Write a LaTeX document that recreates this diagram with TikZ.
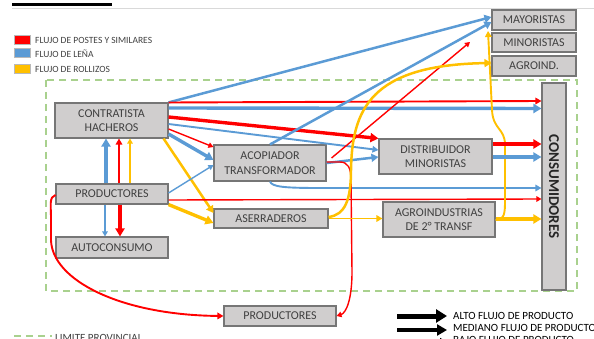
\documentclass[tikz,border=0pt]{standalone}
\usepackage{fontspec}
\setmainfont{Carlito}
\usetikzlibrary{arrows.meta,calc}
\definecolor{cred}{RGB}{255,0,0}
\definecolor{cblue}{RGB}{91,155,213}
\definecolor{cyel}{RGB}{255,192,0}
\definecolor{cgreen}{RGB}{169,209,142}
\definecolor{boxfill}{RGB}{208,206,206}
\definecolor{boxdraw}{RGB}{118,118,118}
\definecolor{txt}{RGB}{64,64,64}
\begin{document}
\begin{tikzpicture}[x=1pt,y=-1pt,
  box/.style={draw=boxdraw,fill=boxfill,line width=1.1pt,inner sep=0pt,align=center,
    font=\fontsize{12}{14.5}\selectfont,text=txt},
  thk/.style={line width=3.4pt,-{Triangle[length=8pt,width=9pt]}},
  med/.style={line width=2.5pt,-{Triangle[length=7pt,width=8pt]}},
  thm/.style={line width=1.9pt,-{Triangle[length=6pt,width=6.5pt]}},
  thn/.style={line width=1.4pt,-{Triangle[length=5pt,width=5.5pt]}},
  legtxt/.style={anchor=west,inner sep=0pt,text=txt},
  swatch/.style={draw=gray!55,line width=0.6pt,minimum width=16pt,minimum height=9pt,inner sep=0pt},
  limit/.style={cgreen,line width=1.5pt,dash pattern=on 7pt off 5pt}
]
\useasboundingbox (0,0) rectangle (594,339);
\clip (0,0) rectangle (594,339);

% header remnants
\fill[black] (12,3) rectangle (112,6);
\draw[gray!30,line width=0.8pt] (12,8.3) -- (594,8.3);

% legend top-left
\node[swatch,fill=cred] (sr) at (22,39.5) {};
\node[swatch,fill=cblue] (sb) at (22,53) {};
\node[swatch,fill=cyel] (sy) at (22,69) {};
\node[legtxt,font=\fontsize{9.5}{11}\selectfont] (tr) at (35,40) {FLUJO DE POSTES Y SIMILARES};
\node[legtxt,font=\fontsize{9.5}{11}\selectfont] (tb) at (35,53.5) {FLUJO DE LEÑA};
\node[legtxt,font=\fontsize{9.5}{11}\selectfont] (ty) at (35,69.5) {FLUJO DE ROLLIZOS};

% provincial limit
\draw[limit] (46,80) rectangle (577,291);

% boxes
\node[box,minimum width=84pt,minimum height=20pt] (may) at (534,20) {MAYORISTAS};
\node[box,minimum width=84pt,minimum height=19pt] (mino) at (534,42.5) {MINORISTAS};
\node[box,minimum width=84pt,minimum height=20pt] (agr) at (534,66) {AGROIND.};
\node[box,minimum width=24pt,minimum height=207pt] (cons) at (554,186.5) {};
\node[rotate=-90,inner sep=0pt,font=\bfseries\fontsize{15}{16}\selectfont,text=black!85] (consl) at (cons.center) {CONSUMIDORES};
\node[box,minimum width=113pt,minimum height=35pt] (con) at (111.5,120.5) {CONTRATISTA\\HACHEROS};
\node[box,minimum width=112pt,minimum height=20pt] (prodl) at (112,194) {PRODUCTORES};
\node[box,minimum width=112pt,minimum height=21pt] (auto) at (112,247.5) {AUTOCONSUMO};
\node[box,minimum width=112pt,minimum height=36pt] (acop) at (270,163) {ACOPIADOR\\TRANSFORMADOR};
\node[box,minimum width=114pt,minimum height=19pt] (aser) at (271,218.5) {ASERRADEROS};
\node[box,minimum width=113pt,minimum height=35pt] (dist) at (435.5,156.5) {DISTRIBUIDOR\\MINORISTAS};
\node[box,minimum width=112pt,minimum height=35pt] (agro2) at (439,219.5) {AGROINDUSTRIAS\\DE 2° TRANSF};
\node[box,minimum width=112pt,minimum height=20pt] (prodb) at (280,316) {PRODUCTORES};

\coordinate (rtip) at (470,42);
\coordinate (ytip) at (488,31);

% from CONTRATISTA HACHEROS
\draw[cblue,med] (con.north east) -- (may.west |- 0,17);
\draw[cred,thm] (con.east |- 0,102.5) -- (cons.west |- 0,101);
\draw[cblue,thk] (con.east |- 0,108) -- (cons.west |- 0,108.5);
\draw[cred,thk] (con.east |- 0,117) -- (dist.north west);
\draw[cblue,thm] (con.east |- 0,124) -- (dist.west |- 0,150);
\draw[cred,thn] (con.east |- 0,129) -- (acop.west |- 0,147);
\draw[cblue,thk] (con.east |- 0,134) -- (acop.west |- 0,160);
\draw[cyel,med] ($(con.south east)+(-5,0)$) -- (aser.west |- 0,213);

% from PRODUCTORES (left)
\draw[cblue,thk] (prodl.north -| 106,0) -- (con.south -| 106,0);
\draw[cred,thm] (prodl.north -| 119,0) -- (con.south -| 119,0);
\draw[cyel,thn] (prodl.north -| 130,0) -- (con.south -| 130,0);
\draw[cblue,thn] (prodl.south -| 105,0) -- (auto.north -| 105,0);
\draw[cred,thk] (prodl.south -| 120,0) -- (auto.north -| 120,0);
\draw[cblue,thn] (prodl.east |- 0,193) -- (acop.west |- 0,165);
\draw[cred,thn] (prodl.east |- 0,200) -- (cons.west |- 0,199);
\draw[cyel,thk] (prodl.south east) -- (aser.west |- 0,223);
\draw[cred,thm] (prodl.west |- 0,195) .. controls (49,197) and (51,205) .. (51,218) -- (51,240)
  .. controls (52,280) and (120,315) .. (prodb.west);

% from ACOPIADOR TRANSFORMADOR
\draw[cblue,med] (acop.north) -- (may.west |- 0,22);
\draw[cred,thn] ($(acop.east |- 0,158)+(5,0)$) -- (rtip);
\draw[cblue,med] (acop.east |- 0,163) -- (dist.west |- 0,157);
\draw[cblue,thm] (acop.south) .. controls (272,187) and (285,188) .. (320,188) -- (cons.west |- 0,188);
\draw[cred,thn] (acop.east |- 0,162) -- (340,162) .. controls (348,162) and (351,168) .. (351,180)
  -- (352,272) .. controls (352,300) and (346,313) .. (prodb.east);

% from ASERRADEROS
\draw[cyel,thm] (aser.east) -- (agro2.west |- 0,218.5);
\draw[cyel,med] (aser.east |- 0,217) .. controls (345,215) and (351,200) .. (351,170)
  .. controls (352,110) and (370,65) .. (agr.west |- 0,63);

% from AGROINDUSTRIAS
\draw[cyel,thk] (agro2.east |- 0,219) -- (cons.west |- 0,219);
\draw[cyel,thm] (agro2.east |- 0,220) .. controls (505,220) and (505,212) .. (505,200) -- (505,145)
  .. controls (505,128) and (493,130) .. (492,110) -- (ytip);

% from DISTRIBUIDOR
\draw[cred,thk] (dist.east |- 0,144) -- (cons.west |- 0,144);
\draw[cblue,thk] (dist.east |- 0,157) -- (cons.west |- 0,157);

% bottom legends
\draw[limit] (14,336) -- (52,336);
\node[legtxt,font=\fontsize{11}{13}\selectfont] (tl) at (55,338) {LIMITE PROVINCIAL};
\draw[black,line width=5pt,-{Triangle[length=11pt,width=13pt]}] (397,316) -- (447,316);
\draw[black,line width=4pt,-{Triangle[length=10pt,width=11pt]}] (397,330) -- (447,330);
\draw[black,line width=1.5pt,-{Triangle[length=7pt,width=8pt]}] (397,342) -- (447,342);
\node[legtxt,font=\fontsize{11}{13}\selectfont,text=black] (ta) at (453,316) {ALTO FLUJO DE PRODUCTO};
\node[legtxt,font=\fontsize{11}{13}\selectfont,text=black] (tm) at (453,328) {MEDIANO FLUJO DE PRODUCTO};
\node[legtxt,font=\fontsize{11}{13}\selectfont,text=black] (tj) at (453,340) {BAJO FLUJO DE PRODUCTO};
\end{tikzpicture}
\end{document}
